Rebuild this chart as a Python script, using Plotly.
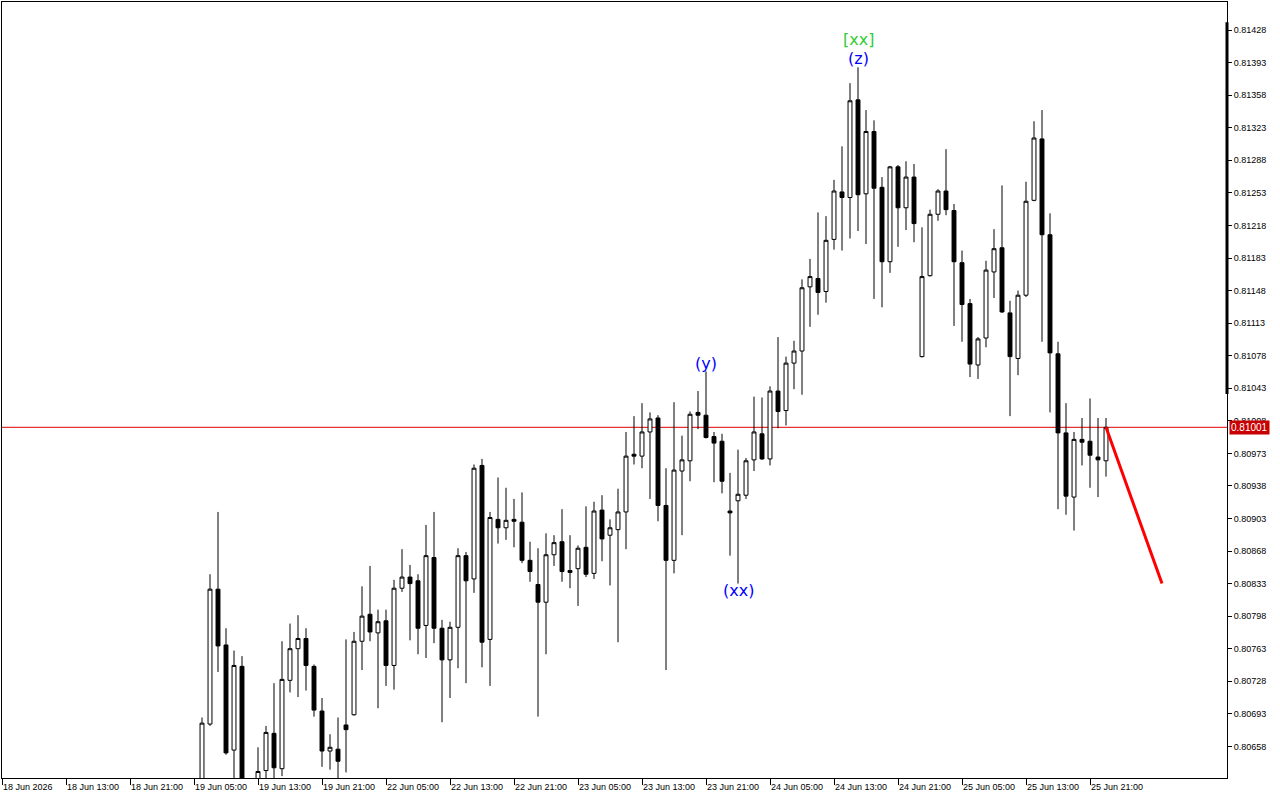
import plotly.graph_objects as go

# ---- data (H1 candlestick chart) ----
first_bar = 25  # index of first visible bar on the chart's bar axis
opens = [0.80610, 0.80682, 0.80827, 0.80767, 0.80654, 0.80744, 0.80593, 0.80610, 0.80632, 0.80672,
         0.80634, 0.80729, 0.80763, 0.80774, 0.80744, 0.80696, 0.80653, 0.80655, 0.80681, 0.80692,
         0.80771, 0.80800, 0.80780, 0.80793, 0.80745, 0.80828, 0.80840, 0.80836, 0.80788, 0.80861,
         0.80785, 0.80751, 0.80786, 0.80863, 0.80838, 0.80960, 0.80773, 0.80902, 0.80893, 0.80902,
         0.80899, 0.80858, 0.80832, 0.80813, 0.80864, 0.80878, 0.80847, 0.80849, 0.80872, 0.80844,
         0.80912, 0.80885, 0.80891, 0.80910, 0.80972, 0.80970, 0.80996, 0.81011, 0.80917, 0.80858,
         0.80954, 0.80965, 0.81017, 0.81014, 0.80991, 0.80986, 0.80911, 0.80922, 0.80928, 0.80966,
         0.80994, 0.80967, 0.81040, 0.81019, 0.81070, 0.81083, 0.81152, 0.81161, 0.81147, 0.81203,
         0.81254, 0.81248, 0.81353, 0.81252, 0.81319, 0.81259, 0.81179, 0.81281, 0.81237, 0.81270,
         0.81077, 0.81164, 0.81230, 0.81255, 0.81234, 0.81178, 0.81134, 0.81068, 0.81097, 0.81168,
         0.81194, 0.81124, 0.81075, 0.81143, 0.81245, 0.81311, 0.81208, 0.81080, 0.80995, 0.80926,
         0.80988, 0.80986, 0.80969, 0.80965]
highs = [0.80689, 0.80843, 0.80910, 0.80785, 0.80761, 0.80755, 0.80615, 0.80657, 0.80680, 0.80726,
         0.80771, 0.80790, 0.80799, 0.80785, 0.80746, 0.80710, 0.80671, 0.80689, 0.80773, 0.80781,
         0.80830, 0.80852, 0.80805, 0.80805, 0.80837, 0.80870, 0.80853, 0.80843, 0.80896, 0.80910,
         0.80794, 0.80792, 0.80871, 0.80867, 0.80961, 0.80967, 0.80910, 0.80947, 0.80936, 0.80924,
         0.80931, 0.80878, 0.80871, 0.80887, 0.80885, 0.80913, 0.80885, 0.80874, 0.80916, 0.80921,
         0.80928, 0.80902, 0.80935, 0.80996, 0.81013, 0.81027, 0.81017, 0.81014, 0.80957, 0.81028,
         0.80992, 0.81018, 0.81040, 0.81061, 0.80996, 0.80994, 0.80952, 0.80977, 0.80968, 0.81034,
         0.81033, 0.81045, 0.81098, 0.81077, 0.81094, 0.81160, 0.81182, 0.81232, 0.81228, 0.81267,
         0.81303, 0.81371, 0.81388, 0.81342, 0.81331, 0.81270, 0.81282, 0.81283, 0.81287, 0.81284,
         0.81216, 0.81235, 0.81257, 0.81300, 0.81241, 0.81191, 0.81139, 0.81098, 0.81180, 0.81214,
         0.81261, 0.81137, 0.81148, 0.81265, 0.81330, 0.81342, 0.81231, 0.81093, 0.81027, 0.80996,
         0.81011, 0.81032, 0.81011, 0.81011]
lows = [0.80599, 0.80680, 0.80738, 0.80649, 0.80610, 0.80588, 0.80583, 0.80599, 0.80615, 0.80615,
        0.80626, 0.80716, 0.80711, 0.80718, 0.80690, 0.80636, 0.80633, 0.80615, 0.80630, 0.80691,
        0.80740, 0.80771, 0.80699, 0.80723, 0.80719, 0.80824, 0.80772, 0.80757, 0.80753, 0.80769,
        0.80684, 0.80710, 0.80742, 0.80726, 0.80823, 0.80743, 0.80723, 0.80876, 0.80880, 0.80872,
        0.80855, 0.80835, 0.80690, 0.80757, 0.80852, 0.80835, 0.80828, 0.80809, 0.80840, 0.80838,
        0.80857, 0.80831, 0.80770, 0.80870, 0.80961, 0.80957, 0.80924, 0.80900, 0.80740, 0.80844,
        0.80885, 0.80943, 0.80999, 0.80989, 0.80942, 0.80930, 0.80863, 0.80833, 0.80924, 0.80954,
        0.80966, 0.80960, 0.81000, 0.81003, 0.81042, 0.81036, 0.81109, 0.81122, 0.81135, 0.81192,
        0.81191, 0.81204, 0.81212, 0.81198, 0.81139, 0.81130, 0.81167, 0.81195, 0.81213, 0.81200,
        0.81076, 0.81163, 0.81223, 0.81229, 0.81110, 0.81093, 0.81055, 0.81053, 0.81087, 0.81140,
        0.81124, 0.81013, 0.81057, 0.81141, 0.81244, 0.81093, 0.81017, 0.80913, 0.80907, 0.80890,
        0.80960, 0.80936, 0.80926, 0.80948]
closes = [0.80683, 0.80827, 0.80766, 0.80651, 0.80745, 0.80599, 0.80610, 0.80631, 0.80673, 0.80635,
          0.80730, 0.80763, 0.80774, 0.80745, 0.80697, 0.80653, 0.80657, 0.80642, 0.80676, 0.80771,
          0.80798, 0.80781, 0.80792, 0.80745, 0.80828, 0.80840, 0.80833, 0.80785, 0.80863, 0.80785,
          0.80751, 0.80786, 0.80863, 0.80836, 0.80957, 0.80770, 0.80904, 0.80893, 0.80901, 0.80900,
          0.80858, 0.80846, 0.80813, 0.80864, 0.80877, 0.80846, 0.80845, 0.80871, 0.80843, 0.80911,
          0.80881, 0.80893, 0.80910, 0.80970, 0.80970, 0.80996, 0.81010, 0.80917, 0.80858, 0.80955,
          0.80966, 0.81015, 0.81014, 0.80990, 0.80984, 0.80943, 0.80909, 0.80929, 0.80965, 0.80996,
          0.80967, 0.81040, 0.81018, 0.81070, 0.81083, 0.81151, 0.81163, 0.81146, 0.81202, 0.81255,
          0.81248, 0.81352, 0.81251, 0.81319, 0.81258, 0.81179, 0.81281, 0.81237, 0.81270, 0.81220,
          0.81163, 0.81230, 0.81255, 0.81235, 0.81179, 0.81133, 0.81069, 0.81096, 0.81170, 0.81193,
          0.81125, 0.81077, 0.81143, 0.81244, 0.81312, 0.81208, 0.81081, 0.80995, 0.80927, 0.80988,
          0.80985, 0.80971, 0.80966, 0.81001]

tick_positions = [0, 8, 16, 24, 32, 40, 48, 56, 64, 72, 80, 88, 96, 104, 112, 120, 128, 136]
tick_labels = ["18 Jun 2026", "18 Jun 13:00", "18 Jun 21:00", "19 Jun 05:00", "19 Jun 13:00",
               "19 Jun 21:00", "22 Jun 05:00", "22 Jun 13:00", "22 Jun 21:00", "23 Jun 05:00",
               "23 Jun 13:00", "23 Jun 21:00", "24 Jun 05:00", "24 Jun 13:00", "24 Jun 21:00",
               "25 Jun 05:00", "25 Jun 13:00", "25 Jun 21:00"]

current_price = 0.81001
trend_x = [138, 145]
trend_y = [0.81001, 0.80833]

wave_texts = ["[xx]", "(z)", "(y)", "(xx)"]
wave_bars = [107, 107, 88, 92]
wave_at = ["high", "high", "high", "low"]
wave_colors = ["#32cd32", "#0000ff", "#0000ff", "#0000ff"]

y_min, y_max = 0.80624, 0.814582
x_min, x_max = 0, 153.125

bar_x = list(range(first_bar, first_bar + len(opens)))

fig = go.Figure()
fig.add_trace(go.Candlestick(
    x=bar_x, open=opens, high=highs, low=lows, close=closes,
    increasing=dict(line=dict(color="black", width=1), fillcolor="white"),
    decreasing=dict(line=dict(color="black", width=1), fillcolor="black"),
    whiskerwidth=0, showlegend=False, hoverinfo="skip",
))
fig.add_trace(go.Scatter(
    x=trend_x, y=trend_y, mode="lines",
    line=dict(color="#ff0000", width=3), showlegend=False, hoverinfo="skip",
))

fig.add_shape(type="line", xref="paper", x0=0, x1=1, yref="y", y0=current_price, y1=current_price,
              line=dict(color="#e00000", width=1), layer="below")
# thick segment on price scale border
fig.add_shape(type="line", xref="paper", x0=1, x1=1, yref="paper", y0=0.495, y1=0.974,
              line=dict(color="black", width=3))

label_shift = {"[xx]": 16, "(z)": -3, "(y)": -4, "(xx)": 5}
annotations = []
for txt, b, where, col in zip(wave_texts, wave_bars, wave_at, wave_colors):
    i = b - first_bar
    if where == "high":
        yv = highs[i]
        anchor = "bottom"
    else:
        yv = lows[i]
        anchor = "top"
    annotations.append(dict(x=b, y=yv, xref="x", yref="y", text=txt, showarrow=False,
                            yanchor=anchor, xanchor="center", yshift=label_shift[txt],
                            font=dict(family="DejaVu Sans", size=16, color=col)))
annotations.append(dict(x=1, xref="paper", y=current_price, yref="y", text="%.5f" % current_price,
                        showarrow=False, xanchor="left", yanchor="middle", xshift=2,
                        bgcolor="#c80000", borderpad=1,
                        font=dict(family="Liberation Sans", size=10, color="white")))

fig.update_layout(
    width=1280, height=800,
    margin=dict(l=2, r=53, t=2, b=22),
    paper_bgcolor="white", plot_bgcolor="white",
    annotations=annotations,
    showlegend=False,
    xaxis=dict(
        range=[x_min, x_max], rangeslider=dict(visible=False),
        tickmode="array", tickvals=tick_positions, ticktext=tick_labels,
        ticks="outside", ticklen=6, tickcolor="black", tickwidth=1,
        ticklabelposition="outside right",
        tickfont=dict(family="Liberation Sans", size=9, color="black"),
        showgrid=False, zeroline=False,
        showline=True, linecolor="black", linewidth=1, mirror=True,
    ),
    yaxis=dict(
        range=[y_min, y_max], side="right",
        tick0=0.80658, dtick=0.00035, tickformat=".5f",
        ticks="outside", ticklen=4, tickcolor="black", tickwidth=1,
        tickfont=dict(family="Liberation Sans", size=9, color="black"),
        showgrid=False, zeroline=False,
        showline=True, linecolor="black", linewidth=1, mirror=True,
    ),
)

fig.write_html("out.html", config={"displayModeBar": False},
               post_script="document.body.style.margin='0px';")
